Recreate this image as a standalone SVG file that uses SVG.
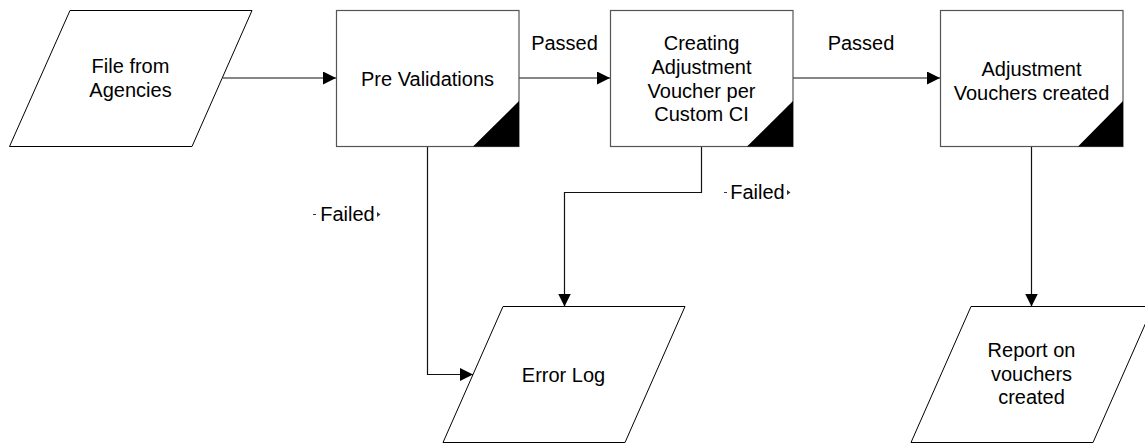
<svg xmlns="http://www.w3.org/2000/svg" width="1145" height="443" viewBox="0 0 1145 443">
  <style>
    .io { fill: #fff; stroke: #000; stroke-width: 1; }
    .proc { fill: #fff; stroke: #555; stroke-width: 1.2; }
    .corner { fill: #000; stroke: none; }
    .lbl { font-family: "Liberation Sans", Arial, sans-serif; font-size: 20px; fill: #000; text-anchor: middle; }
    .edge { fill: none; stroke: #111; stroke-width: 1.2; }
    .tick { stroke: #333; stroke-width: 1; }
  </style>
  <defs>
    <marker id="arrow" markerUnits="userSpaceOnUse" markerWidth="14" markerHeight="14" refX="13" refY="6.5" orient="auto">
      <path d="M0,0 L13,6.5 L0,13 z" fill="#000"/>
    </marker>
  </defs>

  <rect width="1145" height="443" fill="#fff"/>

  <!-- connectors -->
  <g id="connectors">
    <path class="edge" d="M223,78 H336" marker-end="url(#arrow)"/>
    <path class="edge" d="M519,78 H610" marker-end="url(#arrow)"/>
    <path class="edge" d="M793,78 H940" marker-end="url(#arrow)"/>
    <path class="edge" d="M427.5,146 V374.5 H473" marker-end="url(#arrow)"/>
    <path class="edge" d="M701.5,146 V192.5 H564.5 V306.5" marker-end="url(#arrow)"/>
    <path class="edge" d="M1031.5,146 V306.5" marker-end="url(#arrow)"/>

    <text class="lbl" x="564.5" y="50">Passed</text>
    <text class="lbl" x="861" y="50">Passed</text>

    <g id="failed-1">
      <line class="tick" x1="313" y1="214.5" x2="316" y2="214.5"/>
      <text class="lbl" x="347.5" y="221">Failed</text>
      <path d="M377,212 L380.5,214.5 L377,217 z" fill="#333"/>
    </g>
    <g id="failed-2">
      <line class="tick" x1="724" y1="192.5" x2="727" y2="192.5"/>
      <text class="lbl" x="757.5" y="199">Failed</text>
      <path d="M787,190 L790.5,192.5 L787,195 z" fill="#333"/>
    </g>
  </g>

  <!-- input: file from agencies -->
  <g id="file-from-agencies">
    <polygon class="io" points="70,10.5 252,10.5 192,146.5 9.5,146.5"/>
    <text class="lbl" x="130.5" y="72.5">File from</text>
    <text class="lbl" x="130.5" y="97">Agencies</text>
  </g>

  <!-- process: pre validations -->
  <g id="pre-validations">
    <rect class="proc" x="336.5" y="10.5" width="182.5" height="136"/>
    <polygon class="corner" points="473,146.5 519,101 519,146.5"/>
    <text class="lbl" x="427.5" y="85.5">Pre Validations</text>
  </g>

  <!-- process: creating adjustment voucher -->
  <g id="creating-adjustment-voucher">
    <rect class="proc" x="610.5" y="10.5" width="182.5" height="136"/>
    <polygon class="corner" points="747,146.5 793,101 793,146.5"/>
    <text class="lbl" x="701.5" y="49.5">Creating</text>
    <text class="lbl" x="701.5" y="74">Adjustment</text>
    <text class="lbl" x="701.5" y="97.5">Voucher per</text>
    <text class="lbl" x="701.5" y="121">Custom CI</text>
  </g>

  <!-- process: adjustment vouchers created -->
  <g id="adjustment-vouchers-created">
    <rect class="proc" x="940.5" y="10.5" width="182.5" height="136"/>
    <polygon class="corner" points="1078,146.5 1123,101 1123,146.5"/>
    <text class="lbl" x="1031.5" y="76">Adjustment</text>
    <text class="lbl" x="1031.5" y="99.5">Vouchers created</text>
  </g>

  <!-- output: error log -->
  <g id="error-log">
    <polygon class="io" points="503,306.5 685,306.5 625,442.5 443,442.5"/>
    <text class="lbl" x="563.5" y="381.5">Error Log</text>
  </g>

  <!-- output: report on vouchers -->
  <g id="report-on-vouchers">
    <polygon class="io" points="971,306.5 1153,306.5 1093,442.5 911,442.5"/>
    <text class="lbl" x="1031.5" y="357">Report on</text>
    <text class="lbl" x="1031.5" y="380.5">vouchers</text>
    <text class="lbl" x="1031.5" y="404">created</text>
  </g>
</svg>
